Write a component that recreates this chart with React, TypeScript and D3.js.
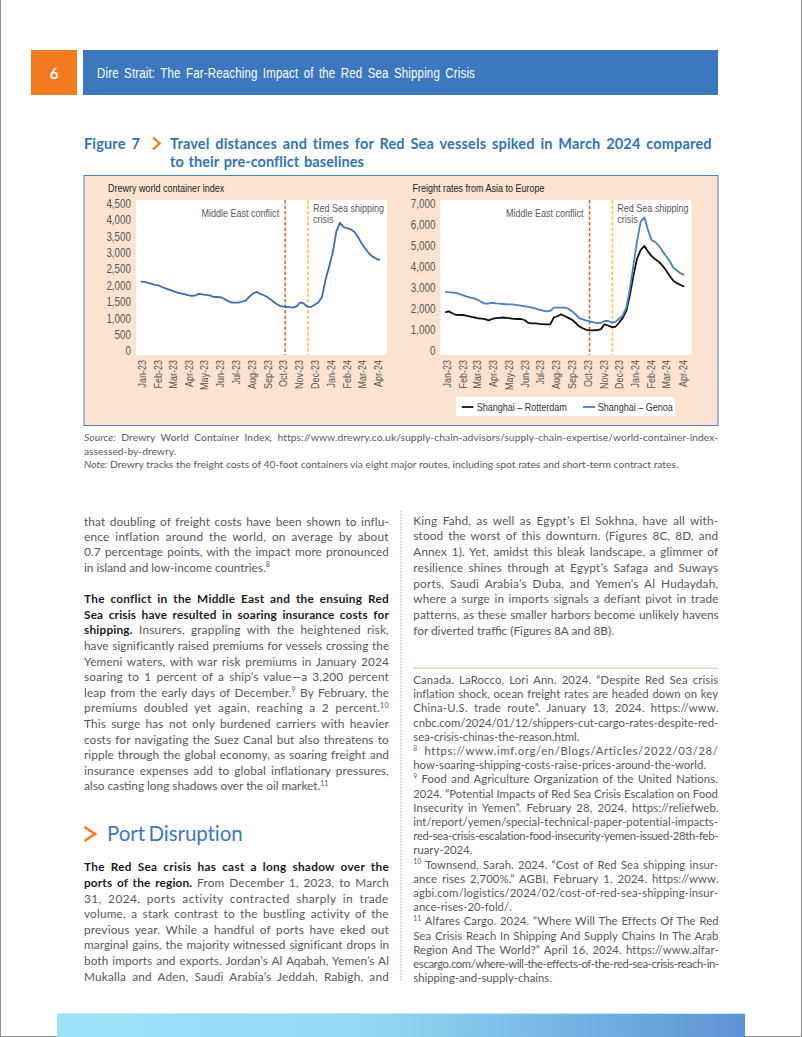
import React, { useEffect } from 'react';
import * as d3 from 'd3';

// ---------------- DATA ----------------
const firstWeek = '2022-12-29';
const wciValues = [2115,2108,2080,2045,2020,2000,1945,1905,1865,1825,1790,1760,1735,1705,1685,1690,1745,1725,1712,1700,1652,1648,1645,1595,1530,1480,1474,1474,1510,1540,1660,1755,1805,1740,1700,1640,1560,1470,1400,1362,1350,1340,1325,1360,1480,1450,1350,1345,1410,1480,1640,2166,2580,3000,3650,3914,3780,3750,3710,3630,3470,3280,3120,2975,2880,2820,2770];
const rotterdamValues = [1835,1880,1790,1710,1709,1709,1670,1630,1590,1555,1535,1515,1450,1520,1560,1575,1590,1575,1550,1520,1519,1519,1460,1330,1313,1313,1285,1280,1266,1266,1590,1650,1740,1660,1570,1480,1340,1170,1080,1000,983,985,995,1040,1266,1210,1130,1150,1340,1560,1900,2650,3600,4400,4800,4984,4715,4500,4350,4230,4050,3820,3560,3330,3220,3130,3060];
const genoaValues = [2816,2790,2775,2760,2700,2640,2580,2535,2500,2430,2330,2250,2255,2290,2260,2245,2230,2215,2210,2200,2180,2150,2120,2090,2060,2010,1960,1920,1880,1900,2056,2056,2056,2056,2010,1890,1740,1560,1500,1440,1400,1360,1320,1330,1424,1424,1345,1380,1530,1680,2060,2950,4100,5240,6150,6340,5740,5260,5170,5000,4740,4500,4260,3950,3820,3680,3610];
const monthLabels = ['Jan-23','Feb-23','Mar-23','Apr-23','May-23','Jun-23','Jul-23','Aug-23','Sep-23','Oct-23','Nov-23','Dec-23','Jan-24','Feb-24','Mar-24','Apr-24'];
const leftYTicks = [0,500,1000,1500,2000,2500,3000,3500,4000,4500];
const rightYTicks = [0,1000,2000,3000,4000,5000,6000,7000];
const eventDates = ['2023-10-04','2023-11-17'];
const eventNames = ['Middle East conflict','Red Sea shipping crisis'];
const seriesNames = ['Shanghai – Rotterdam','Shanghai – Genoa'];

const parseDay = d3.utcParse('%Y-%m-%d');
const parseMonth = d3.utcParse('%b-%y');
const weekDates = wciValues.map((_, i) => d3.utcDay.offset(parseDay(firstWeek)!, 7 * i));
const monthDates = monthLabels.map(m => parseMonth(m)!);
const events = eventDates.map(d => parseDay(d)!);

// ---------------- TEXT ----------------
type Line = string | { s: string; last: true };
const last = (s: string): Line => ({ s, last: true });

const leftPara1: Line[] = [
  'that doubling of freight costs have been shown to influ-',
  'ence inflation around the world, on average by about',
  '0.7 percentage points, with the impact more pronounced',
  last('in island and low-income countries.^8^'),
];
const leftPara2: Line[] = [
  '**The conflict in the Middle East and the ensuing Red**',
  '**Sea crisis have resulted in soaring insurance costs for**',
  '**shipping.** Insurers, grappling with the heightened risk,',
  'have significantly raised premiums for vessels crossing the',
  'Yemeni waters, with war risk premiums in January 2024',
  'soaring to 1 percent of a ship’s value—a 3,200 percent',
  'leap from the early days of December.^9^ By February, the',
  'premiums doubled yet again, reaching a 2 percent.^10^',
  'This surge has not only burdened carriers with heavier',
  'costs for navigating the Suez Canal but also threatens to',
  'ripple through the global economy, as soaring freight and',
  'insurance expenses add to global inflationary pressures,',
  last('also casting long shadows over the oil market.^11^'),
];
const leftPara3: Line[] = [
  '**The Red Sea crisis has cast a long shadow over the**',
  '**ports of the region.** From December 1, 2023, to March',
  '31, 2024, ports activity contracted sharply in trade',
  'volume, a stark contrast to the bustling activity of the',
  'previous year. While a handful of ports have eked out',
  'marginal gains, the majority witnessed significant drops in',
  'both imports and exports. Jordan’s Al Aqabah, Yemen’s Al',
  'Mukalla and Aden, Saudi Arabia’s Jeddah, Rabigh, and',
];
const rightPara1: Line[] = [
  'King Fahd, as well as Egypt’s El Sokhna, have all with-',
  'stood the worst of this downturn. (Figures 8C, 8D, and',
  'Annex 1). Yet, amidst this bleak landscape, a glimmer of',
  'resilience shines through at Egypt’s Safaga and Suways',
  'ports, Saudi Arabia’s Duba, and Yemen’s Al Hudaydah,',
  'where a surge in imports signals a defiant pivot in trade',
  'patterns, as these smaller harbors become unlikely havens',
  last('for diverted traffic (Figures 8A and 8B).'),
];
const footnotes: Line[] = [
  'Canada. LaRocco, Lori Ann. 2024. “Despite Red Sea crisis',
  'inflation shock, ocean freight rates are headed down on key',
  'China-U.S. trade route”. January 13, 2024. https://www.',
  'cnbc.com/2024/01/12/shippers-cut-cargo-rates-despite-red-',
  last('sea-crisis-chinas-the-reason.html.'),
  '^8^ https://www.imf.org/en/Blogs/Articles/2022/03/28/',
  last('how-soaring-shipping-costs-raise-prices-around-the-world.'),
  '^9^ Food and Agriculture Organization of the United Nations.',
  '2024. “Potential Impacts of Red Sea Crisis Escalation on Food',
  'Insecurity in Yemen”. February 28, 2024. https://reliefweb.',
  'int/report/yemen/special-technical-paper-potential-impacts-',
  'red-sea-crisis-escalation-food-insecurity-yemen-issued-28th-feb-',
  last('ruary-2024.'),
  '^10^ Townsend, Sarah. 2024. “Cost of Red Sea shipping insur-',
  'ance rises 2,700%.” AGBI, February 1, 2024. https://www.',
  'agbi.com/logistics/2024/02/cost-of-red-sea-shipping-insur-',
  last('ance-rises-20-fold/.'),
  '^11^ Alfares Cargo. 2024. “Where Will The Effects Of The Red',
  'Sea Crisis Reach In Shipping And Supply Chains In The Arab',
  'Region And The World?” April 16, 2024. https://www.alfar-',
  'escargo.com/where-will-the-effects-of-the-red-sea-crisis-reach-in-',
  last('shipping-and-supply-chains.'),
];
const sourceLines: Line[] = [
  '_Source:_ Drewry World Container Index, https://www.drewry.co.uk/supply-chain-advisors/supply-chain-expertise/world-container-index-',
  last('assessed-by-drewry.'),
  last('_Note:_ Drewry tracks the freight costs of 40-foot containers via eight major routes, including spot rates and short-term contract rates.'),
];

// ---------------- STYLE ----------------
const BODY = "Lato, 'Open Sans', sans-serif";
const CHART = "'Liberation Sans', Arial, sans-serif";
const NARROW = 0.82;
const BLUE = '#3b78bf';
const ORANGE = '#f47a20';
const TXT = '#575757';

function renderSegs(s: string, size: number) {
  const parts: { t: string; b?: boolean; i?: boolean; sup?: boolean }[] = [];
  const re = /\*\*(.+?)\*\*|_(.+?)_|\^(.+?)\^/g;
  let lastIdx = 0;
  let m: RegExpExecArray | null;
  while ((m = re.exec(s))) {
    if (m.index > lastIdx) parts.push({ t: s.slice(lastIdx, m.index) });
    if (m[1] !== undefined) parts.push({ t: m[1], b: true });
    else if (m[2] !== undefined) parts.push({ t: m[2], i: true });
    else parts.push({ t: m[3], sup: true });
    lastIdx = re.lastIndex;
  }
  if (lastIdx < s.length) parts.push({ t: s.slice(lastIdx) });
  let shifted = false;
  return parts.map((p, k) => {
    if (p.sup) {
      shifted = true;
      return (
        <tspan key={k} dy={-4.5} fontSize={size * 0.6}>
          {p.t}
        </tspan>
      );
    }
    const dy = shifted ? 4.5 : undefined;
    shifted = false;
    return (
      <tspan key={k} dy={dy} fontWeight={p.b ? 700 : undefined} fontStyle={p.i ? 'italic' : undefined} fill={p.b ? '#1c1c1c' : undefined}>
        {p.t}
      </tspan>
    );
  });
}

function Para({ x, y, dy, size, lines, width, color = TXT }: { x: number; y: number; dy: number; size: number; lines: Line[]; width: number; color?: string }) {
  return (
    <g fontFamily={BODY} fontSize={size} fill={color}>
      {lines.map((ln, i) => {
        const isLast = typeof ln !== 'string';
        const s = typeof ln === 'string' ? ln : ln.s;
        return (
          <text key={i} x={x} y={y + i * dy} data-w={isLast ? undefined : width}>
            {renderSegs(s, size)}
          </text>
        );
      })}
    </g>
  );
}

// narrow text (emulated condensed face)
function NT({ x, y, size, fill = '#555', anchor, rot, children, w }: { x: number; y: number; size: number; fill?: string; anchor?: string; rot?: boolean; children: React.ReactNode; w?: number }) {
  return (
    <text
      transform={`translate(${x},${y})${rot ? ' rotate(-90)' : ''} scale(${NARROW},1)`}
      fontFamily={CHART}
      fontSize={size}
      fill={fill}
      textAnchor={anchor as any}
      dominantBaseline="central"
      data-w={w ? w / NARROW : undefined}
    >
      {children}
    </text>
  );
}

function Chart({ dx, title, yTicks, yMax, series, legend }: { dx: number; title: string; yTicks: number[]; yMax: number; series: { v: number[]; c: string }[]; legend: boolean }) {
  const x = d3.scaleUtc().domain([monthDates[0], monthDates[monthDates.length - 1]]).range([142.3 + dx, 378.3 + dx]);
  const y = d3.scaleLinear().domain([0, yMax]).range([351, 203.5]);
  const line = d3.line<number>().x((_, i) => x(weekDates[i])).y(v => y(v));
  const ex = events.map(d => x(d));
  return (
    <g>
      <NT x={108 + dx} y={188} size={11} fill="#222">{title}</NT>
      <rect x={136 + dx} y={200} width={251} height={155} fill="#fff" />
      {yTicks.map(t => (
        <NT key={t} x={131 + dx} y={y(t)} size={12} anchor="end">
          {d3.format(',')(t)}
        </NT>
      ))}
      {monthLabels.map((m, i) => (
        <NT key={m} x={x(monthDates[i])} y={360} size={11} anchor="end" rot>
          {m}
        </NT>
      ))}
      <line x1={ex[0]} x2={ex[0]} y1={200} y2={355} stroke="#e0602e" strokeWidth={1.5} strokeDasharray="3.5,2" />
      <line x1={ex[1]} x2={ex[1]} y1={200} y2={355} stroke="#f2c530" strokeWidth={1.5} strokeDasharray="3.5,2" />
      <NT x={ex[0] - 6} y={213} size={11} fill="#595959" anchor="end">{eventNames[0]}</NT>
      <NT x={ex[1] + 5} y={208} size={11} fill="#595959">Red Sea shipping</NT>
      <NT x={ex[1] + 5} y={219.5} size={11} fill="#595959">crisis</NT>
      {series.map((s, k) => (
        <path key={k} d={line(s.v) || ''} fill="none" stroke={s.c} strokeWidth={1.8} strokeLinejoin="round" />
      ))}
      {legend && (
        <g>
          <rect x={456} y={397} width={219} height={19} fill="#fff" />
          <line x1={461.7} x2={473.3} y1={407} y2={407} stroke={series[0].c} strokeWidth={1.8} />
          <NT x={476.7} y={407} size={11} fill="#333">{seriesNames[0]}</NT>
          <line x1={583} x2={595} y1={407} y2={407} stroke={series[1].c} strokeWidth={1.8} />
          <NT x={597.7} y={407} size={11} fill="#333">{seriesNames[1]}</NT>
        </g>
      )}
    </g>
  );
}

export default function App() {
  useEffect(() => {
    const run = () => {
      document.querySelectorAll('text[data-w]').forEach((node) => {
        const el = node as SVGTextElement;
        el.style.letterSpacing = '0px';
        el.style.wordSpacing = '0px';
        const nat = el.getComputedTextLength();
        const target = +(el.getAttribute('data-w') || 0);
        const txt = el.textContent || '';
        const n = Math.max(1, txt.length);
        const sp = (txt.match(/ /g) || []).length;
        const extra = target - nat;
        let ws = 0;
        if (sp > 0) {
          ws = (extra * 0.65) / sp;
          ws = Math.max(-2, Math.min(3, ws));
        }
        const ls = (extra - ws * sp) / n;
        el.style.letterSpacing = ls + 'px';
        el.style.wordSpacing = ws + 'px';
      });
    };
    run();
    const f = (document as any).fonts;
    if (f && f.ready) f.ready.then(run);
  }, []);

  return (
    <div style={{ position: 'absolute', left: 0, top: 0 }}>
      <svg width={802} height={1037} style={{ display: 'block', background: '#fff' }}>
        <defs>
          <linearGradient id="foot" x1="0" x2="1" y1="0" y2="0">
            <stop offset="0" stopColor="#9fe1f8" />
            <stop offset="0.45" stopColor="#94d8f4" />
            <stop offset="1" stopColor="#5e93d4" />
          </linearGradient>
        </defs>
        {/* page border */}
        <path d="M0.5,0 V1036.5 H801.5 V0" fill="none" stroke="#8c8c8c" strokeWidth={1} />

        {/* header */}
        <rect x={31} y={50} width={46} height={45} fill={ORANGE} />
        <text x={54} y={73} fontFamily={BODY} fontWeight={700} fontSize={15} fill="#fff" textAnchor="middle" dominantBaseline="central">6</text>
        <rect x={83} y={50} width={635} height={45} fill={BLUE} />
        <NT x={97} y={73} size={14} fill="#fff" w={378}>Dire Strait: The Far-Reaching Impact of the Red Sea Shipping Crisis</NT>

        {/* figure title */}
        <g fontFamily={BODY} fontWeight={700} fontSize={14.5} fill="#2f74b9">
          <text x={84} y={148.5} data-w={56}>Figure 7</text>
          <text x={170} y={148.5} data-w={542}>Travel distances and times for Red Sea vessels spiked in March 2024 compared</text>
          <text x={170} y={166.5} data-w={194}>to their pre-conflict baselines</text>
        </g>
        <polyline points="153,137.5 159.5,143.5 153,149.5" fill="none" stroke={ORANGE} strokeWidth={2.3} />

        {/* chart box */}
        <rect x={84} y={175.5} width={634} height={250} fill="#fce3cf" stroke="#4a80c2" strokeWidth={1} />
        <Chart dx={0} title="Drewry world container index" yTicks={leftYTicks} yMax={4500} series={[{ v: wciValues, c: '#3a6db5' }]} legend={false} />
        <Chart dx={304.4} title="Freight rates from Asia to Europe" yTicks={rightYTicks} yMax={7000} series={[{ v: rotterdamValues, c: '#111' }, { v: genoaValues, c: '#4a7fc0' }]} legend={true} />

        {/* source */}
        <Para x={84} y={441} dy={13.5} size={10.3} lines={sourceLines} width={634} color="#5a5a5a" />

        {/* left column */}
        <Para x={84} y={525.5} dy={15.45} size={11.8} lines={leftPara1} width={305} />
        <Para x={84} y={603.3} dy={15.58} size={11.8} lines={leftPara2} width={305} />
        <polyline points="84.5,827 95,834 84.5,841" fill="none" stroke={ORANGE} strokeWidth={2.6} />
        <text x={107} y={840.5} fontFamily={BODY} fontSize={20.5} fill={BLUE} data-w={136}>Port Disruption</text>
        <Para x={84} y={871.3} dy={15.6} size={11.8} lines={leftPara3} width={305} />

        {/* column separator */}
        <line x1={401} x2={401} y1={511} y2={982} stroke="#a9bfd8" strokeWidth={1.2} strokeDasharray="1.5,1.5" />

        {/* right column */}
        <Para x={413.3} y={524.7} dy={15.7} size={11.8} lines={rightPara1} width={305} />
        <line x1={413} x2={718} y1={668.3} y2={668.3} stroke="#f3d3bc" strokeWidth={1.5} />
        <Para x={413.3} y={684} dy={14.2} size={11.3} lines={footnotes} width={305} />

        {/* bottom bar */}
        <rect x={57} y={1013} width={688} height={24} fill="url(#foot)" />
        <line x1={57} x2={745} y1={1013.5} y2={1013.5} stroke="#c2ecfa" strokeWidth={1} />
      </svg>
    </div>
  );
}
